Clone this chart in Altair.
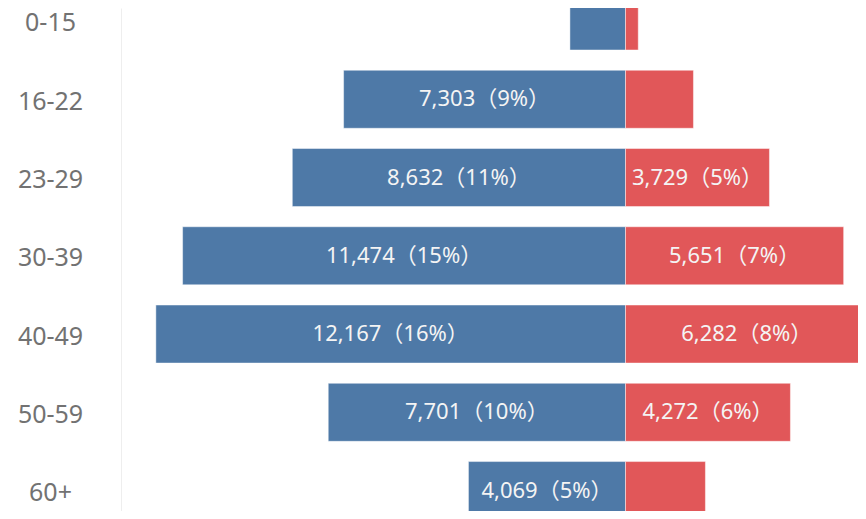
import altair as alt
import pandas as pd

categories = ["0-15", "16-22", "23-29", "30-39", "40-49", "50-59", "60+"]
left_values = [1440, 7303, 8632, 11474, 12167, 7701, 4069]
right_values = [330, 1760, 3729, 5651, 6282, 4272, 2070]
left_labels = ["", "7,303（9%）", "8,632（11%）", "11,474（15%）", "12,167（16%）", "7,701（10%）", "4,069（5%）"]
right_labels = ["", "", "3,729（5%）", "5,651（7%）", "6,282（8%）", "4,272（6%）", ""]
series_names = ["Left", "Right"]
series_colors = ["#4e79a7", "#e15759"]

rows = []
for i, cat in enumerate(categories):
    rows.append({"category": cat, "idx": i, "series": series_names[0],
                 "value": -left_values[i], "label": left_labels[i]})
    rows.append({"category": cat, "idx": i, "series": series_names[1],
                 "value": right_values[i], "label": right_labels[i]})
df = pd.DataFrame(rows)

FONT = "'Noto Sans', 'Noto Sans CJK JP'"
half = 0.3706

xscale = alt.Scale(domain=[-13070, 6023], nice=False, zero=False)
yscale = alt.Scale(domain=[-0.166, 6.261], nice=False, zero=False, reverse=True)

label_expr = "[" + ",".join("'" + c + "'" for c in categories) + "][datum.value]"


def yaxis():
    return alt.Axis(values=list(range(len(categories))), labelExpr=label_expr, title=None,
                    grid=False, ticks=False, tickSize=0, labelPadding=71, labelAlign="center",
                    labelFont=FONT, labelFontSize=25, labelColor="#727272", labelOffset=2,
                    domainColor="#eeeeee", domainWidth=1, labelOverlap=False)


base = alt.Chart(df).transform_calculate(
    y0=f"datum.idx - {half}", y1=f"datum.idx + {half}", mid="datum.value / 2"
)

bars = base.mark_bar(clip=True, stroke="white", strokeOpacity=0.45, strokeWidth=1).encode(
    x=alt.X("value:Q", scale=xscale, axis=None),
    x2=alt.datum(0),
    y=alt.Y("y0:Q", scale=yscale, axis=yaxis()),
    y2="y1:Q",
    color=alt.Color("series:N", scale=alt.Scale(domain=series_names, range=series_colors), legend=None),
)

texts = base.mark_text(font=FONT, fontSize=22, color="#f4f4f4", align="center", baseline="middle").encode(
    x=alt.X("mid:Q", scale=xscale, axis=None),
    y=alt.Y("idx:Q", scale=yscale, axis=yaxis()),
    text="label:N",
)

chart = alt.layer(bars, texts).properties(
    width=737, height=503,
    autosize=alt.AutoSizeParams(type="none"),
    padding={"left": 113, "top": 0, "right": 0, "bottom": 0},
).configure_view(stroke=None)

chart.save("out.html", embed_options={"renderer": "svg", "actions": False})
